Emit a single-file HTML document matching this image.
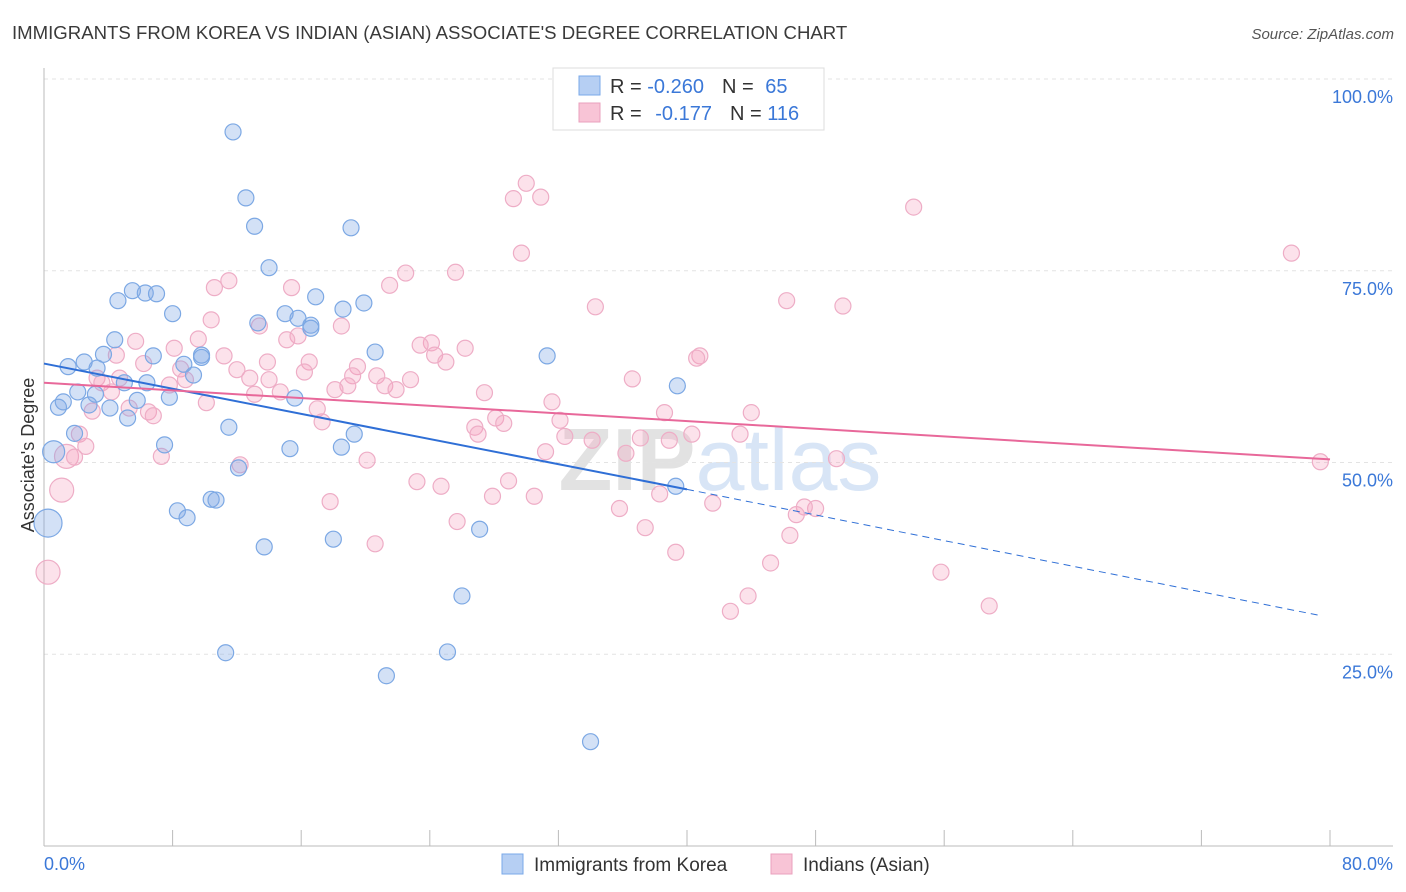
<!DOCTYPE html>
<html><head><meta charset="utf-8"><style>
body{margin:0;background:#fff;font-family:"Liberation Sans",sans-serif;}
svg{display:block}
</style></head><body>
<svg id="chart" width="1406" height="892" font-family="Liberation Sans, sans-serif">
<text x="12" y="39" font-size="18.6" fill="#3a3a3a">IMMIGRANTS FROM KOREA VS INDIAN (ASIAN) ASSOCIATE'S DEGREE CORRELATION CHART</text>
<text x="1394" y="39" font-size="15" fill="#555" font-style="italic" text-anchor="end">Source: ZipAtlas.com</text>
<text x="720" y="490" font-size="88" fill="#e2e2e2" text-anchor="middle" font-weight="bold">ZIP<tspan font-weight="normal" fill="#d8e5f6">atlas</tspan></text>
<g id="grid"></g><g id="axes"></g><g id="pts"></g><g id="lines"></g>
<text transform="translate(34,455) rotate(-90)" font-size="18" fill="#333" text-anchor="middle">Associate's Degree</text>
<text x="44" y="870" font-size="18" fill="#3b78d8">0.0%</text>
<text x="1393" y="870" font-size="18" fill="#3b78d8" text-anchor="end">80.0%</text>
<g>
<rect x="553" y="68" width="271" height="62" fill="#fff" stroke="#ddd"/>
<rect x="579" y="76" width="21" height="19" fill="#b6cff3" stroke="#7aa8e8"/>
<text x="610" y="93" font-size="20" fill="#333">R = <tspan fill="#3b78d8">-0.260</tspan><tspan dx="18">N = </tspan><tspan fill="#3b78d8" dx="6">65</tspan></text>
<rect x="579" y="103" width="21" height="19" fill="#f8c4d6" stroke="#eaa0bd"/>
<text x="610" y="120" font-size="20" fill="#333">R = <tspan fill="#3b78d8" dx="8">-0.177</tspan><tspan dx="18">N = </tspan><tspan fill="#3b78d8">116</tspan></text>
</g>
<g>
<rect x="502" y="854" width="21" height="20" fill="#b6cff3" stroke="#7aa8e8"/>
<text x="534" y="871" font-size="19" fill="#333">Immigrants from Korea</text>
<rect x="771" y="854" width="21" height="20" fill="#f8c4d6" stroke="#eaa0bd"/>
<text x="803" y="871" font-size="19" fill="#333">Indians (Asian)</text>
</g>
</svg>
<script>
const yTicks=[25,50,75,100];
const xTicks=[0,8,16,24,32,40,48,56,64,72,80];
const koreaX=[11.76,12.56,13.1,19.1,14.0,5.5,6.3,7.0,4.6,16.9,19.9,18.6,8.0,15.0,15.8,13.3,16.6,4.4,3.7,6.8,9.8,20.6,31.3,2.5,1.5,3.3,8.7,9.3,5.0,6.4,39.4,2.1,3.2,7.8,5.8,15.6,1.2,2.8,0.9,4.1,5.2,11.5,1.9,19.3,7.5,18.5,15.3,0.6,12.1,10.4,10.7,8.3,8.9,0.25,27.1,18.0,13.7,26.0,11.3,25.1,21.3,34.0,39.3,16.6,9.8];
const koreaY=[93.1,84.5,80.8,80.6,75.4,72.4,72.1,72.0,71.1,71.6,70.8,70.0,69.4,69.4,68.8,68.2,67.9,66.0,64.1,63.9,64.0,64.4,63.9,63.1,62.5,62.3,62.8,61.4,60.4,60.4,60.0,59.2,58.9,58.5,58.1,58.4,57.9,57.5,57.2,57.1,55.8,54.6,53.8,53.7,52.3,52.0,51.8,51.4,49.3,45.2,45.1,43.7,42.8,42.1,41.3,40.0,39.0,32.6,25.2,25.3,22.2,13.6,46.9,67.5,63.7];
const koreaW=[1,1,1,1,1,1,1,1,1,1,1,1,1,1,1,1,1,1,1,1,1,1,1,1,1,1,1,1,1,1,1,1,1,1,1,1,1,1,1,1,1,1,1,1,1,1,1,2,1,1,1,1,1,3,1,1,1,1,1,1,1,1,1,1,1];
const indX=[30.0,29.2,30.9,54.1,29.7,77.6,11.5,10.6,22.5,25.6,21.5,15.4,46.2,49.7,34.3,10.4,13.4,18.5,15.8,15.1,5.7,9.6,24.1,23.4,8.1,26.2,24.3,4.5,11.2,40.8,40.6,25.0,13.9,16.5,6.2,19.5,12.0,16.2,8.5,20.7,19.2,12.8,3.3,4.7,22.8,36.6,3.6,14.0,8.8,7.8,18.9,21.2,21.9,4.2,14.7,18.1,27.4,13.1,10.1,31.6,17.0,3.0,6.5,38.6,44.0,5.3,6.8,28.1,32.1,17.3,28.6,26.8,27.0,40.3,43.3,2.2,32.4,34.1,37.1,38.9,2.6,31.2,36.2,1.4,1.9,7.3,20.1,49.3,12.2,79.4,23.2,24.7,28.9,1.1,27.9,30.5,38.3,41.6,17.8,35.8,48.0,47.3,46.8,25.7,37.4,46.4,20.6,39.3,45.2,55.8,0.25,43.8,58.8,42.7];
const indY=[86.4,84.4,84.6,83.3,77.3,77.3,73.7,72.8,74.7,74.8,73.1,72.8,71.1,70.4,70.3,68.6,67.8,67.8,66.5,66.0,65.8,66.1,65.6,65.3,64.9,64.9,64.0,64.0,63.9,63.9,63.6,63.1,63.1,63.1,62.9,62.5,62.1,61.8,62.2,61.3,61.3,61.0,61.0,61.0,60.8,60.9,60.4,60.8,60.8,60.1,60.0,60.0,59.5,59.2,59.2,59.5,59.1,58.9,57.8,57.9,57.0,56.7,56.6,56.5,56.5,57.1,56.1,55.8,55.5,55.3,55.1,54.6,53.7,53.7,53.7,53.7,53.4,52.9,53.2,52.9,52.1,51.4,51.2,50.8,50.7,50.8,50.3,50.5,49.7,50.1,47.5,46.9,47.6,46.4,45.6,45.6,45.9,44.7,44.9,44.0,44.0,44.2,43.2,42.3,41.5,40.5,39.4,38.3,36.9,35.7,35.7,32.6,31.3,30.6];
const indBig=[83,93,110];
const koreaTrend=[62.9,46.5,30.0];
const koreaTrendX=[0,40,79.5];
const indTrend=[60.4,50.4];
const indTrendX=[0,80];
const ns="http://www.w3.org/2000/svg";
const X=v=>44+v*16.075, Y=v=>846-v*7.67;
function mk(tag,attrs,parent){const e=document.createElementNS(ns,tag);for(const k in attrs)e.setAttribute(k,attrs[k]);parent.appendChild(e);return e;}
const grid=document.getElementById('grid'),axes=document.getElementById('axes'),pts=document.getElementById('pts'),lines=document.getElementById('lines');
yTicks.forEach(t=>{const l=mk('line',{x1:44,x2:1393,y1:Y(t),y2:Y(t),stroke:'#e3e3e3','stroke-dasharray':'4,4'},grid);


const tx=mk('text',{x:1393,y:Y(t)+24,'font-size':18,fill:'#3b78d8','text-anchor':'end'},grid);tx.textContent=t.toFixed(1)+'%';

});
const ya=mk('line',{x1:44,x2:44,y1:68,y2:846,stroke:'#bbb'},axes);


const xa=mk('line',{x1:44,x2:1393,y1:846,y2:846,stroke:'#bbb'},axes);


xTicks.forEach(t=>{const l=mk('line',{x1:X(t),x2:X(t),y1:830,y2:846,stroke:'#bbb'},axes);

});
indX.forEach((v,i)=>{const r=indBig.includes(i)?12:8;const c=mk('circle',{cx:X(v),cy:Y(indY[i]),r:r,fill:'rgba(244,160,190,0.3)',stroke:'#eeadc6','stroke-width':1.2},pts);

});
koreaX.forEach((v,i)=>{const r=koreaW[i]===3?14:koreaW[i]===2?11:8;const c=mk('circle',{cx:X(v),cy:Y(koreaY[i]),r:r,fill:'rgba(130,170,230,0.35)',stroke:'#7ca8e4','stroke-width':1.2},pts);

});
const k1=mk('line',{x1:X(koreaTrendX[0]),y1:Y(koreaTrend[0]),x2:X(koreaTrendX[1]),y2:Y(koreaTrend[1]),stroke:'#2f6fd6','stroke-width':2},lines);


const k2=mk('line',{x1:X(koreaTrendX[1]),y1:Y(koreaTrend[1]),x2:X(koreaTrendX[2]),y2:Y(koreaTrend[2]),stroke:'#2f6fd6','stroke-width':1,'stroke-dasharray':'7,5'},lines);


const p1=mk('line',{x1:X(indTrendX[0]),y1:Y(indTrend[0]),x2:X(indTrendX[1]),y2:Y(indTrend[1]),stroke:'#e8689a','stroke-width':2},lines);


</script>
</body></html>
